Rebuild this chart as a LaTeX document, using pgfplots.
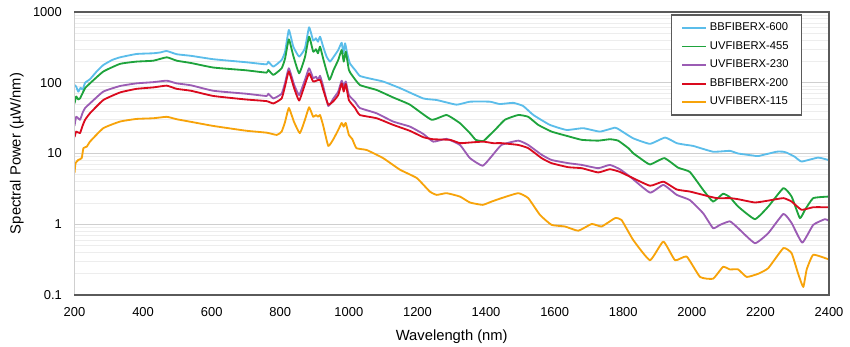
\documentclass[border=0pt]{standalone}
\usepackage{pgfplots}
\pgfplotsset{compat=1.18}
\usepackage{fontspec}
\setmainfont{Liberation Sans}
\definecolor{ccyan}{HTML}{5BBDEA}
\definecolor{cgreen}{HTML}{1EA33C}
\definecolor{cpurple}{HTML}{9B5CB4}
\definecolor{cred}{HTML}{DA0A1E}
\definecolor{corange}{HTML}{F7A30A}
\definecolor{darkframe}{HTML}{5A5A5A}
\definecolor{majgrid}{HTML}{CFCFCF}
\definecolor{mingrid}{HTML}{EDEDED}
\begin{document}
\begin{tikzpicture}
\begin{axis}[
  scale only axis,
  width=188.625mm, height=70.75mm,
  xmin=200, xmax=2400, ymin=0.1, ymax=1000,
  ymode=log,
  xtick={200,400,...,2400},
  ytick={0.1,1,10,100,1000},
  yticklabels={0.1,1,10,100,1000},
  /pgf/number format/1000 sep={},
  /pgf/number format/assume math mode=true,
  major tick length=0pt, minor tick length=0pt,
  ymajorgrids, yminorgrids,
  major grid style={majgrid, line width=0.6pt},
  minor grid style={mingrid, line width=0.5pt},
  axis line style={draw=none},
  clip mode=individual,
  tick label style={font=\fontsize{9.2}{11}\selectfont, text=black},
  xticklabel style={anchor=center, inner sep=0pt, yshift=-4.2mm},
  yticklabel style={anchor=east, inner sep=0pt, xshift=-3.1mm},
  every axis x label/.style={at={([yshift=-10.4mm]axis description cs:0.5,0)}, anchor=center, font=\fontsize{10.5}{12}\selectfont},
  every axis y label/.style={at={([xshift=-14.4mm]axis description cs:0,0.5)}, anchor=center, rotate=90, font=\fontsize{10.5}{12}\selectfont},
  xlabel={Wavelength (nm)},
  ylabel={Spectral Power (µW/nm)},
  legend style={at={(1,1)}, anchor=north east, xshift=-6.75mm, yshift=-0.6mm,
    draw=darkframe, line width=0.8pt, font=\fontsize{8}{9.5}\selectfont,
    row sep=0.75mm, inner xsep=2.5mm, inner ysep=1.3mm},
  legend cell align=left,
  legend image code/.code={\draw[#1, line width=1.3pt] (0mm,0mm) -- (6mm,0mm);},
  every axis plot/.append style={line width=1.3pt, line join=round, smooth, tension=0.25},
]
\addplot[ccyan] coordinates {
(200,93)(205,88)(211,75)(218,85)(224,80)(231,100)(245,112)(265,145)(284,178)(310,210)(333,229)(381,255)(430,261)(450,268)(469,281)(498,253)(540,240)(605,215)(700,195)(760,182)(765,199)(780,169)(804,210)(814,275)(825,557)(838,324)(855,234)(872,307)(884,608)(896,394)(904,425)(910,380)(916,448)(925,324)(935,234)(945,199)(955,230)(969,290)(979,368)(984,261)(989,361)(995,261)(1003,188)(1018,152)(1032,125)(1060,115)(1100,104)(1149,84)(1217,60)(1256,57)(1314,49)(1353,54)(1411,54)(1440,50)(1479,52)(1508,47)(1538,35)(1586,25.4)(1635,21.5)(1683,22.8)(1732,20.4)(1776,23.2)(1790,21.5)(1829,16.4)(1878,13.7)(1922,16.8)(1956,14.0)(1985,13.2)(2004,12.8)(2062,10.6)(2111,10.9)(2135,10.0)(2179,9.35)(2194,9.2)(2247,10.6)(2267,10.6)(2276,10.3)(2300,9.0)(2320,7.7)(2368,8.75)(2398,8.1)
};
\addlegendentry{BBFIBERX-600}
\addplot[cgreen] coordinates {
(200,51)(205,64)(211,58)(216,60)(224,72)(231,84)(245,98)(284,144)(333,185)(381,199)(430,205)(469,229)(498,205)(540,190)(605,164)(700,150)(760,139)(765,152)(780,129)(804,160)(814,220)(825,411)(838,240)(855,136)(872,230)(884,448)(896,275)(904,297)(910,261)(916,324)(925,220)(943,110)(955,150)(969,210)(979,290)(985,199)(991,275)(1000,152)(1008,130)(1032,93)(1081,79)(1129,62)(1178,49)(1241,30)(1285,35)(1324,26.8)(1353,19.4)(1370,15.6)(1392,15)(1411,18.3)(1426,21.5)(1455,30)(1494,35)(1523,33)(1552,25.4)(1591,20.4)(1640,17.5)(1679,15.6)(1727,15.2)(1761,15.9)(1785,15.2)(1815,11.9)(1829,10.1)(1849,8.6)(1878,7.0)(1920,8.6)(1960,6.3)(1994,5.5)(2033,3.06)(2062,2.09)(2091,2.7)(2111,2.41)(2135,1.78)(2184,1.18)(2223,1.78)(2267,3.24)(2291,2.46)(2315,1.22)(2330,1.6)(2354,2.34)(2398,2.46)
};
\addlegendentry{UVFIBERX-455}
\addplot[cpurple] coordinates {
(200,24.5)(205,33)(216,30)(224,38)(231,44)(245,51)(284,75)(333,90)(381,98)(430,102)(469,107)(498,98)(540,92)(605,77)(700,70)(760,65)(765,70)(780,60)(804,70)(814,100)(825,160)(840,95)(855,67)(872,110)(884,160)(896,116)(904,122)(910,110)(916,125)(925,90)(940,47)(955,60)(969,75)(979,107)(985,88)(991,104)(1000,67)(1018,54)(1032,44)(1081,37)(1129,28.3)(1178,24)(1217,18.9)(1246,14.7)(1285,16.1)(1324,13.2)(1353,8.6)(1390,6.7)(1416,9.1)(1445,13.2)(1494,15.2)(1523,13.2)(1562,9.6)(1591,8.1)(1640,7.3)(1679,6.9)(1727,6.2)(1761,6.9)(1790,6.0)(1820,4.7)(1878,2.8)(1917,3.6)(1956,2.6)(1994,2.2)(2033,1.43)(2062,0.88)(2082,0.98)(2111,1.1)(2135,0.88)(2184,0.54)(2223,0.75)(2267,1.40)(2291,1.04)(2322,0.55)(2354,0.98)(2388,1.18)(2398,1.13)
};
\addlegendentry{UVFIBERX-230}
\addplot[cred] coordinates {
(200,17)(205,20.4)(216,19.4)(224,25)(231,30)(245,37)(284,57)(333,73)(381,82)(430,86)(469,91)(498,82)(540,77)(605,65)(700,58)(760,55)(780,51)(804,60)(814,90)(825,144)(840,85)(855,56)(872,95)(884,136)(896,104)(916,110)(925,80)(940,49)(955,55)(969,67)(979,98)(985,75)(991,96)(1000,57)(1018,44)(1032,35)(1081,31.5)(1129,25.4)(1178,20.9)(1217,17)(1246,15.9)(1295,15.6)(1324,14)(1353,14.3)(1392,14.7)(1421,14)(1445,14)(1494,13.2)(1523,11.9)(1562,8.6)(1591,7.3)(1640,6.4)(1679,6.2)(1727,5.4)(1761,6.0)(1790,5.5)(1820,4.7)(1878,3.5)(1917,4.0)(1956,3.1)(1994,2.9)(2033,2.6)(2072,2.34)(2111,2.34)(2135,2.26)(2184,2.03)(2223,2.16)(2267,2.34)(2291,2.09)(2320,1.6)(2354,1.74)(2398,1.74)
};
\addlegendentry{BBFIBERX-200}
\addplot[corange] coordinates {
(200,5.3)(203,7.3)(211,8.1)(221,8.6)(226,11.9)(236,12.5)(245,14.7)(284,22.8)(333,28.3)(381,30.8)(430,31.5)(469,33)(498,30.5)(540,28)(605,24.5)(700,21)(760,19.7)(790,18.3)(804,20.4)(814,28)(825,44)(840,28)(857,19.4)(872,30)(884,45)(896,33)(904,35)(910,33)(916,35)(925,25)(940,12.8)(955,16)(969,21.5)(979,27)(985,24)(991,27)(1000,18.3)(1010,16)(1022,11.9)(1052,11.2)(1100,8.6)(1149,5.9)(1198,4.5)(1236,2.9)(1256,2.6)(1285,2.75)(1324,2.46)(1353,2.03)(1390,1.88)(1416,2.09)(1445,2.34)(1494,2.75)(1523,2.34)(1557,1.36)(1591,0.98)(1630,0.93)(1669,0.81)(1708,1.01)(1737,0.93)(1776,1.22)(1795,1.15)(1829,0.60)(1878,0.31)(1917,0.57)(1951,0.31)(1985,0.35)(2024,0.18)(2062,0.17)(2091,0.25)(2111,0.23)(2135,0.23)(2160,0.18)(2194,0.20)(2223,0.24)(2267,0.46)(2291,0.39)(2310,0.20)(2325,0.13)(2335,0.23)(2354,0.37)(2398,0.32)
};
\addlegendentry{UVFIBERX-115}
\draw[majgrid, line width=0.8pt] (rel axis cs:0,0) -- (rel axis cs:0,1);
\draw[darkframe, line width=1pt] (rel axis cs:0,0) -- (rel axis cs:1,0) -- (rel axis cs:1,1) -- (rel axis cs:0,1);
\end{axis}
\pgfresetboundingbox
\path (-18.625mm,-12.75mm) rectangle (193.875mm,73.75mm);
\end{tikzpicture}
\end{document}
